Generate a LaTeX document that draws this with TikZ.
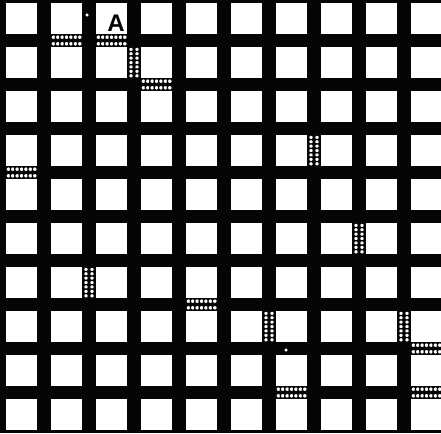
\documentclass[tikz,border=0pt]{standalone}
\usepackage{fontspec}
\setsansfont{Liberation Sans}
\usepackage{tikz}
\usepackage{xcolor}
\definecolor{Ink}{HTML}{050505}
\definecolor{Paper}{HTML}{FFFFFF}

% ring of links across a horizontal bar: column, row above the bar
\newcommand{\hseam}[2]{%
  \foreach \k in {0,...,6} {
    \draw[link] ({6+45*#1+2.4+4.4*\k}, {40.5+44*#2-3.3}) circle[radius=2.5];
    \draw[link] ({6+45*#1+2.4+4.4*\k}, {40.5+44*#2+3.3}) circle[radius=2.5];
  }}
% ring of links down a vertical bar: column left of the bar, row
\newcommand{\vseam}[2]{%
  \foreach \k in {0,...,6} {
    \draw[link] ({44+45*#1-3.0}, {3+44*#2+2.4+4.4*\k}) circle[radius=2.4];
    \draw[link] ({44+45*#1+3.0}, {3+44*#2+2.4+4.4*\k}) circle[radius=2.4];
  }}

\begin{document}
\begin{tikzpicture}[
  x=1pt, y=-1pt,
  sq/.style={fill=Paper},
  link/.style={fill=Paper, draw=Ink, line width=1.1pt},
  lbl/.style={font=\fontsize{24}{24}\selectfont\sffamily\bfseries, text=Ink, inner sep=0pt}
]
  \useasboundingbox (0,0) rectangle (441,433);
  \fill[Ink] (0,0) rectangle (441,433);
  % openings of the mesh
  \foreach \c in {0,...,9} {
    \foreach \r in {0,...,9} {
      \fill[sq] ({6+45*\c}, {3+44*\r}) rectangle ({37+45*\c}, {34+44*\r});
    }
  }
  % broken strands
  \hseam{1}{0}
  \hseam{2}{0}
  \hseam{3}{1}
  \hseam{0}{3}
  \hseam{4}{6}
  \hseam{9}{7}
  \hseam{6}{8}
  \hseam{9}{8}
  \vseam{2}{1}
  \vseam{1}{6}
  \vseam{6}{3}
  \vseam{7}{5}
  \vseam{5}{7}
  \vseam{8}{7}
  % small holes
  \draw[link] (87,15) circle[radius=2.2];
  \draw[link] (286,350) circle[radius=2.2];
  \node[lbl, anchor=base] (a) at (116,32) {A};
\end{tikzpicture}
\end{document}
